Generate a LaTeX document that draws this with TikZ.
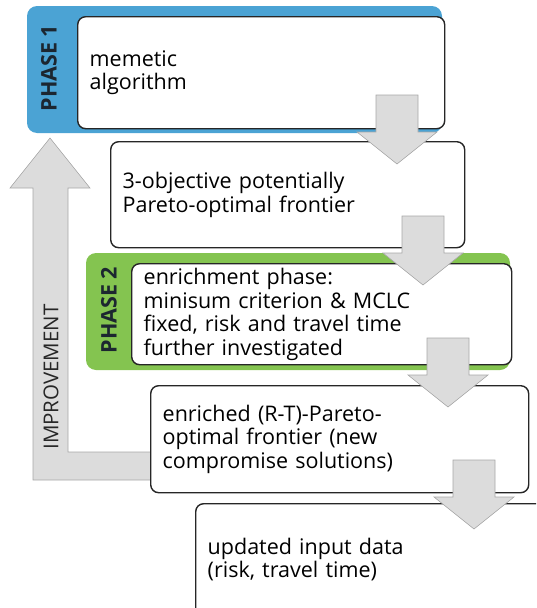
\documentclass[tikz,border=0pt]{standalone}
\usepackage{fontspec}
\setmainfont{Open Sans}
\definecolor{phaseblue}{HTML}{4BA3D4}
\definecolor{phasegreen}{HTML}{84C450}
\definecolor{arrfill}{HTML}{DCDCDC}
\definecolor{arredge}{HTML}{A8A8A8}
\definecolor{labelink}{HTML}{1C2630}
\begin{document}
\begin{tikzpicture}[x=1pt,y=-1pt,
  box/.style={draw=black!85,line width=1.4pt,rounded corners=8pt,fill=white,
    anchor=north west,align=left,inner xsep=12pt,inner ysep=0pt,
    font=\fontsize{21.5}{23.5}\selectfont},
  phasebg/.style={fill=#1,rounded corners=10pt},
  phaselabel/.style={rotate=90,font=\bfseries\fontsize{21.5}{24}\selectfont,text=labelink},
  blockarrow/.style={fill=arrfill,draw=arredge,line width=0.6pt,line join=miter},
  pics/downarrow/.style={code={
    \path[blockarrow] (-21,0) -- (21,0) -- (21,37) -- (40,37) -- (0,69) -- (-40,37) -- (-21,37) -- cycle;
  }}]
\useasboundingbox (0,0) rectangle (536,608);
\clip (0,0) rectangle (536,608);

% improvement arrow
\path[blockarrow] (50,138) -- (90,188) -- (68,188) -- (68,452) -- (183,452) -- (183,480)
  -- (33,480) -- (33,188) -- (10,188) -- cycle;
\node[rotate=90,font=\fontsize{20.5}{23.5}\selectfont,text=black!85] (impr) at (51,377) {IMPROVEMENT};

% phase 1
\path[phasebg=phaseblue] (27,6) rectangle (442,133);
\node[phaselabel] (p1) at (49,68) {PHASE 1};
\node[box,minimum width=367pt,minimum height=112pt,text width=343pt] (b1) at (77,16) {memetic\\algorithm};

% box 2
\node[box,minimum width=354pt,minimum height=106pt,text width=330pt] (b2) at (110,141) {3-objective potentially\\Pareto-optimal frontier};

% phase 2
\path[phasebg=phasegreen] (86,253) rectangle (510,370);
\node[phaselabel] (p2) at (109,310) {PHASE 2};
\node[box,minimum width=380pt,minimum height=101pt,text width=356pt] (b3) at (131,263)
  {enrichment phase:\\minisum criterion \& MCLC\\fixed, risk and travel time\\further investigated};

% box 4
\node[box,minimum width=378pt,minimum height=107pt,text width=354pt] (b4) at (150,385)
  {enriched (R-T)-Pareto-\\optimal frontier (new\\compromise solutions)};

% box 5
\node[box,minimum width=380pt,minimum height=112pt,text width=356pt] (b5) at (195,503)
  {updated input data\\(risk, travel time)};

% down arrows
\pic at (397,95) {downarrow};
\pic at (423,216) {downarrow};
\pic at (448,338) {downarrow};
\pic at (474,460) {downarrow};
\end{tikzpicture}
\end{document}
